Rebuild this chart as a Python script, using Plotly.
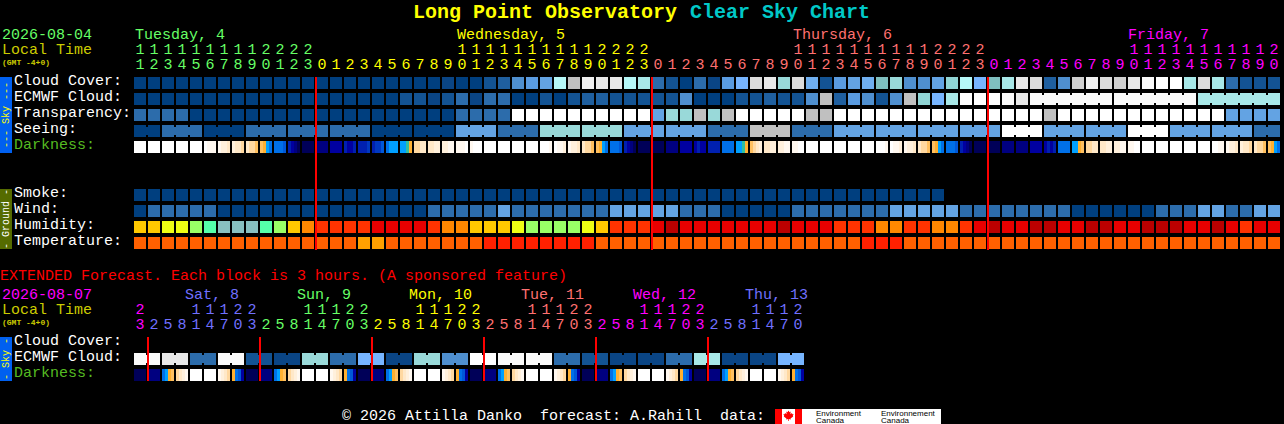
import plotly.graph_objects as go

# ---------- data ----------
TOP_HOURS = [11,12,13,14,15,16,17,18,19,20,21,22,23,0,1,2,3,4,5,6,7,8,9,10,11,12,13,14,15,16,17,18,19,20,21,22,23,
             0,1,2,3,4,5,6,7,8,9,10,11,12,13,14,15,16,17,18,19,20,21,22,23,
             0,1,2,3,4,5,6,7,8,9,10,11,12,13,14,15,16,17,18,19,20]
TOP_HOUR_COLORS = ["#66ff66"]*13 + ["#ffff00"]*24 + ["#ff7070"]*24 + ["#ff00ff"]*21
EXT_HOURS = [23,2,5,8,11,14,17,20,23,2,5,8,11,14,17,20,23,2,5,8,11,14,17,20,23,2,5,8,11,14,17,20,23,
             2,5,8,11,14,17,20,23,2,5,8,11,14,17,20]
EXT_HOUR_COLORS = ["#ff00ff"] + ["#7070ff"]*8 + ["#66ff66"]*8 + ["#ffff00"]*8 + ["#ff7070"]*8 + ["#ff00ff"]*8 + ["#7070ff"]*7

SKY_COLORS = ["#003F7F","#0A4585","#135393","#1F5F9F","#2C6CAB","#4F8FCF","#5A9BE0","#63A3E3","#70AFF0","#77B5FF",
              "#7FBFBF","#90D4D4","#99D9D9","#A8E8E8","#B5F7F7","#C0C0C0","#D0D0D0","#DCDCDC","#E8E8E8","#F0F0F0",
              "#FAFAFA","#FFFFFF"]
HUMIDITY_COLORS = ["#BB0000","#E80000","#FF3300","#FF8800","#FFC800","#EEFF14","#99FF66","#55FFAA","#88C0C0"]
TEMP_COLORS = ["#FF2000","#FF6000","#FFA000"]
DARK_COLORS = ["#FFFFFF","#FFF8F0","#FFF0DC","#FFE8C8","#FFD8A0","#FFC060","#FFB030","#30C0A0",
               "#00A0FF","#0070E8","#0058D8","#0038C0","#0020B0","#0000A0","#000080","#000058"]

CLOUD = [0,0,0,0,0,0,0,0,0,0,0,0,0,0,0,0,0,0,0,0,0,0,1,0,0,2,3,5,6,7,14,15,19,18,18,14,13,4,2,0,4,1,6,9,17,18,12,17,8,2,6,7,
         8,10,12,5,5,7,11,14,9,10,13,18,17,3,5,16,19,17,16,18,20,21,21,13,17,13,4,2,2,2]
ECMWF = [0,0,0,0,0,0,0,0,0,0,0,0,0,0,0,0,0,0,0,2,2,1,2,4,1,4,4,0,0,2,0,2,3,3,2,2,2,2,2,5,0,0,0,2,2,3,2,2,5,15,3,6,
         5,2,5,15,11,9,13,21,21,21,20,18,20,20,20,20,20,20,20,20,20,20,20,20,13,13,13,13,13,13]
TRANSPARENCY = [4,4,4,4,0,0,0,0,0,0,0,0,0,0,0,0,0,0,0,0,0,0,0,4,4,4,4,21,21,21,21,21,21,21,21,21,21,7,12,12,15,12,15,
                21,21,21,21,21,15,15,21,21,21,21,21,21,21,21,21,21,21,21,21,21,21,15,21,21,21,21,21,21,21,21,21,21,21,21,7,7,7,7]
SEEING = [0,0,4,4,4,0,0,0,4,4,4,4,4,4,4,4,4,0,0,0,0,0,0,7,7,7,4,4,4,12,12,12,12,12,12,7,7,7,7,7,7,4,4,4,15,15,15,4,4,4,
          7,7,7,7,7,7,7,7,7,7,7,7,21,21,21,7,7,7,7,7,7,21,21,21,7,7,7,7,7,7,4,4]
SEEING_JOIN = [0,2,3,5,6,8,9,11,12,14,15,17,18,20,21,23,24,26,27,29,30,32,33,35,36,38,39,41,42,44,45,47,48,50,51,53,54,
               56,57,59,60,62,63,65,66,68,69,71,72,74,75,77,78,80]
ECMWF_JOIN = [64,65,66,67,68,70,71,72,73,74,76,77,78,79,80]
SMOKE = [0,0,0,0,0,0,0,0,0,0,0,0,0,0,0,0,0,0,0,0,0,0,0,0,0,0,0,0,0,0,0,0,0,0,0,0,0,0,0,0,0,0,0,0,0,0,0,0,0,0,0,0,0,0,0,0,0,0]
WIND = [0,4,4,4,4,4,0,0,0,0,0,0,0,0,0,0,0,0,0,0,0,4,4,4,4,4,7,4,4,4,4,4,4,4,7,7,7,7,7,4,4,4,0,0,0,0,0,4,4,4,4,4,4,4,
        7,7,7,7,7,4,4,4,4,4,4,4,4,0,0,0,0,0,0,4,4,4,7,7,4,4,7,7]
HUMIDITY = [4,4,5,5,6,7,8,8,8,7,6,4,3,2,2,2,2,1,1,1,1,2,3,3,4,4,4,5,6,6,6,6,5,4,2,2,2,1,0,1,1,1,1,1,1,1,0,1,1,1,2,2,
            2,3,3,2,2,3,3,2,1,0,1,1,0,0,1,1,0,0,1,1,0,0,0,1,1,0,1,2,1,1]
TEMPERATURE = [1,1,1,1,1,1,1,1,1,1,1,1,1,1,1,1,2,2,1,1,1,1,1,1,1,0,0,0,0,0,0,0,0,1,1,1,1,1,1,1,1,1,1,1,1,1,1,1,1,1,1,1,
               0,0,0,1,1,1,1,1,1,1,1,1,1,1,1,1,1,1,1,1,1,1,1,1,1,1,1,1,1,1]
DARKNESS = ["0000","0000","0000","0000","0000","0111","1223","2334","3445","5689","999a","cdef","ffff","eeee","dddd","cddc",
            "cccb","cbba","9888","8876","4433","3322","2211","1110","1000","0000","0000","0000","0000","0001","0112","1223",
            "3445","5689","999a","cdef","ffff","ffff","eeee","dddd","dcdd","cccc","9999","8876","5432","3322","2211","1100",
            "0000","0000","0000","0000","0000","0001","0112","1223","3445","5689","999a","cdef","ffff","ffff","eeee","eeee",
            "dddd","dcdc","9999","8865","4433","3322","2211","1100","0000","0000","0000","0000","0000","0011","1223","2334",
            "3445","5689"]

EXT_ECMWF = [20,18,4,20,2,1,12,4,9,1,12,5,21,20,20,4,2,1,1,4,13,1,1,9]
EXT_DARKNESS = ["ffff","eeee","9865","4321","0000","0000","1234","69ad",
                "ffff","eeee","9865","4321","0000","0000","1234","69ad",
                "ffff","eeee","9865","4321","0000","0000","1234","69ad",
                "ffff","eeee","9865","4321","0000","0000","1234","69ad",
                "ffff","eeee","9865","4321","0000","0000","1234","69ad",
                "ffff","eeee","9865","4321","0000","0000","1234","69ad"]

MIDNIGHT_COLS = [13,37,61]
EXT_MIDNIGHT_COLS = [1,9,17,25,33,41]
DAY_HEADERS = [("Tuesday, 4",135,"#66ff66"),("Wednesday, 5",457,"#ffff00"),("Thursday, 6",793,"#ff7070"),("Friday, 7",1128,"#ff00ff")]
EXT_DAY_HEADERS = [("Sat, 8",185,"#7070ff"),("Sun, 9",297,"#66ff66"),("Mon, 10",409,"#ffff00"),("Tue, 11",521,"#ff7070"),
                   ("Wed, 12",633,"#ff00ff"),("Thu, 13",745,"#7070ff")]
ROW_LABELS = [("Cloud Cover:",81,"#ffffff"),("ECMWF Cloud:",97,"#ffffff"),("Transparency:",113,"#ffffff"),("Seeing:",129,"#ffffff"),
              ("Darkness:",145,"#55bb22"),("Smoke:",193,"#ffffff"),("Wind:",209,"#ffffff"),("Humidity:",225,"#ffffff"),
              ("Temperature:",241,"#ffffff"),("Cloud Cover:",341,"#ffffff"),("ECMWF Cloud:",357,"#ffffff"),("Darkness:",373,"#55bb22")]

# ---------- layout constants ----------
W, H = 1284, 424
X0, PITCH, BLOCK = 134, 14, 12
MONO = "Liberation Mono"
FRAC = BLOCK / PITCH

def px(p):
    return (p - X0) / PITCH

def discrete(colors):
    n = len(colors)
    scale = []
    for i, c in enumerate(colors):
        scale += [[i / n, c], [(i + 1) / n, c]]
    return scale

def row(values, top, colors, joins=(), first_col=0):
    """One heatmap row: blocks and gaps as bricks, three strips high so that joined blocks show a notch."""
    joins = set(joins)
    edges, mid, outer = [], [], []
    for k, cell in enumerate(values):
        i = first_col + k
        samples = cell if isinstance(cell, list) else [cell]
        for s, v in enumerate(samples):
            edges.append(i + FRAC * s / len(samples))
            mid.append(v)
            outer.append(v)
        edges.append(i + FRAC)
        mid.append(samples[-1] if i in joins else None)
        outer.append(None)
    edges.append(len(values) + first_col)
    return go.Heatmap(x=edges, y=[top, top + 2, top + 10, top + 12], z=[outer, mid, outer],
                      colorscale=discrete(colors), zmin=-0.5, zmax=len(colors) - 0.5,
                      showscale=False, hoverinfo="skip", hoverongaps=False)

def dark(codes):
    return [[int(ch, 16) for ch in code] for code in codes]

def pair(values):
    out = []
    for v in values:
        out += [v, v]
    return out

traces = [
    row(CLOUD, 77, SKY_COLORS),
    row(ECMWF, 93, SKY_COLORS, ECMWF_JOIN),
    row(TRANSPARENCY, 109, SKY_COLORS),
    row(SEEING, 125, SKY_COLORS, SEEING_JOIN),
    row(dark(DARKNESS), 141, DARK_COLORS),
    row(SMOKE, 189, SKY_COLORS),
    row(WIND, 205, SKY_COLORS),
    row(HUMIDITY, 221, HUMIDITY_COLORS),
    row(TEMPERATURE, 237, TEMP_COLORS),
    row(pair(EXT_ECMWF), 353, SKY_COLORS, list(range(0, 48, 2))),
    row(dark(EXT_DARKNESS), 369, DARK_COLORS),
]

def digits(hours, colors, y_tens, y_units):
    xs = [i + 6 / PITCH for i in range(len(hours))]
    tx, tt, tc = [], [], []
    for x, h, c in zip(xs, hours, colors):
        if h >= 10:
            tx.append(x); tt.append(str(h // 10)); tc.append(c)
    common = dict(mode="text", hoverinfo="skip", showlegend=False, textposition="middle center")
    return [
        go.Scatter(x=tx, y=[y_tens] * len(tx), text=tt, textfont=dict(family=MONO, size=15, color=tc), **common),
        go.Scatter(x=xs, y=[y_units] * len(xs), text=[str(h % 10) for h in hours],
                   textfont=dict(family=MONO, size=15, color=colors), **common),
    ]

traces += digits(TOP_HOURS, TOP_HOUR_COLORS, 50, 65)
traces += digits(EXT_HOURS, EXT_HOUR_COLORS, 310, 325)

fig = go.Figure(traces)

def label(text, x, y, color, size=15, anchor="left", angle=0, family=MONO, bold=False):
    t = f"<b>{text}</b>" if bold else text
    fig.add_annotation(x=px(x), y=y, text=t, showarrow=False, xanchor=anchor, yanchor="middle", textangle=angle,
                       font=dict(family=family, size=size, color=color), borderpad=0, borderwidth=0)

label("Long Point Observatory", 413, 12, "#ffff00", 20, bold=True)
label("Clear Sky Chart", 690, 12, "#00c8c8", 20, bold=True)
for y, date, color in [(35, "2026-08-04", "#66ff66"), (295, "2026-08-07", "#ff00ff")]:
    label(date, 2, y, color)
    label("Local Time", 2, y + 15, "#cccc00")
    label("(GMT -4+0)", 2, y + 27, "#cccc00", 8, bold=True)
for text, x, color in DAY_HEADERS:
    label(text, x, 35, color)
for text, x, color in EXT_DAY_HEADERS:
    label(text, x, 295, color)
for text, y, color in ROW_LABELS:
    label(text, 14, y, color)
label("EXTENDED Forecast. Each block is 3 hours. (A sponsored feature)", 0, 276, "#ff0000")
label("\u00a9 2026 Attilla Danko\u00a0\u00a0forecast: A.Rahill\u00a0\u00a0data:", 342, 416, "#ffffff")

# sidebars
shapes = []
def rect(x0, x1, y0, y1, color):
    shapes.append(dict(type="rect", xref="x", yref="y", x0=px(x0), x1=px(x1), y0=y0, y1=y1,
                       fillcolor=color, line=dict(width=0), layer="above"))

rect(0, 12, 77, 153, "#0060F0")
rect(0, 12, 189, 249, "#556B00")
rect(0, 12, 337, 381, "#0060F0")
label("--- Sky ---", 6, 115, "#ffff00", 10, "center", -90)
label("- Ground -", 6, 219, "#ffffff", 10, "center", -90)
label("- Sky -", 6, 359, "#ffff00", 10, "center", -90)

# midnight lines
for c in MIDNIGHT_COLS:
    shapes.append(dict(type="line", xref="x", yref="y", x0=c, x1=c, y0=77, y1=250,
                       line=dict(color="#ff0000", width=2), layer="above"))
for c in EXT_MIDNIGHT_COLS:
    shapes.append(dict(type="line", xref="x", yref="y", x0=c, x1=c, y0=337, y1=381,
                       line=dict(color="#ff0000", width=2), layer="above"))

# logo
rect(775, 941, 409, 424, "#ffffff")
rect(775, 782, 409, 424, "#ff0000")
rect(795, 802, 409, 424, "#ff0000")
LEAF = [(0,-6),(1.2,-3.8),(2.6,-4.6),(2.2,-1.6),(4,-3),(4.6,-1.6),(6,-1.8),(5,0.6),(5.6,1.2),(2.4,3.4),(2.8,4.6),
        (0.4,4.2),(0.4,6.5),(-0.4,6.5),(-0.4,4.2),(-2.8,4.6),(-2.4,3.4),(-5.6,1.2),(-5,0.6),(-6,-1.8),(-4.6,-1.6),
        (-4,-3),(-2.2,-1.6),(-2.6,-4.6),(-1.2,-3.8)]
path = "M " + " L ".join(f"{px(788.5 + dx * 0.85):.4f} {415.5 + dy * 0.85:.2f}" for dx, dy in LEAF) + " Z"
shapes.append(dict(type="path", xref="x", yref="y", path=path, fillcolor="#ff0000", line=dict(width=0), layer="above"))
for text, x in [("Environment", 816), ("Environnement", 881)]:
    label(text, x, 413, "#000000", 8, family="Liberation Sans")
    label("Canada", x, 420, "#000000", 8, family="Liberation Sans")

fig.update_layout(
    width=W, height=H, margin=dict(l=0, r=0, t=0, b=0, pad=0), showlegend=False,
    paper_bgcolor="#000000", plot_bgcolor="#000000", shapes=shapes,
    xaxis=dict(range=[px(0), px(W)], visible=False, fixedrange=True),
    yaxis=dict(range=[H, 0], visible=False, fixedrange=True),
)
fig.write_html("out.html", config={"displayModeBar": False},
               post_script="document.body.style.margin='0';document.body.style.background='#000';document.body.style.overflow='hidden';")
